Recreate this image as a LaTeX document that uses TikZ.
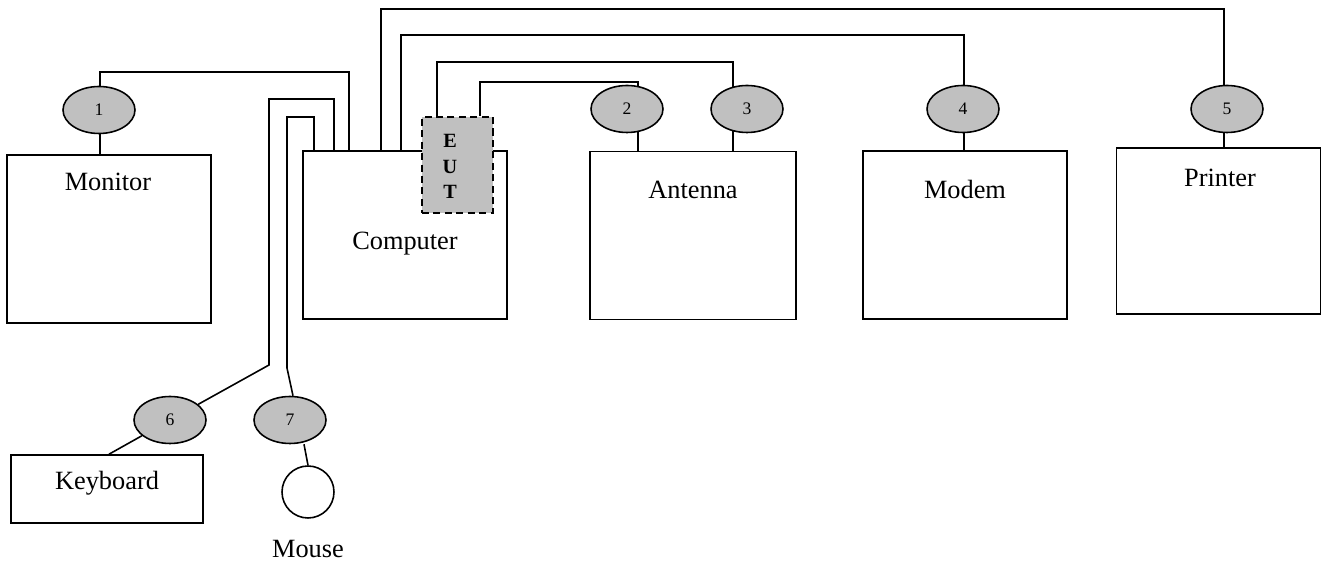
\documentclass[tikz,border=0pt]{standalone}
\usepackage{fontspec}
\setmainfont{Liberation Serif}
\usepackage{xcolor}
\usepackage{tikz}
\usetikzlibrary{shapes.geometric,positioning,backgrounds}
\definecolor{portgray}{HTML}{C0C0C0}

\begin{document}
\begin{tikzpicture}[
  x=0.02cm, y=-0.02cm,
  unit/.style={draw, rectangle, line width=0.9pt, inner sep=0pt, minimum width=4.08cm, minimum height=3.36cm},
  kbd/.style={unit, minimum width=3.84cm, minimum height=1.36cm},
  port/.style={draw, ellipse, line width=0.9pt, fill=portgray, inner sep=0pt, minimum width=1.44cm, minimum height=0.94cm, font=\fontsize{10}{12}\selectfont},
  eutbox/.style={draw, rectangle, line width=0.9pt, dash pattern=on 4pt off 2.5pt, fill=portgray, minimum width=1.42cm, minimum height=1.92cm},
  mousebox/.style={draw, circle, line width=0.9pt, minimum size=1.04cm, inner sep=0pt},
  lbl/.style={anchor=base, inner sep=0pt, font=\fontsize{15}{18}\selectfont},
  cable/.style={line width=0.9pt}
]
\useasboundingbox (0,0) rectangle (1323,563);
\node[unit] (monitor) at (109,239) {};
\node[unit] (computer) at (405,235) {};
\node[unit, minimum width=4.12cm] (antenna) at (693,235.5) {};
\node[unit] (modem) at (965,235) {};
\node[unit, minimum height=3.32cm] (printer) at (1218.5,231) {};
\node[kbd] (keyboard) at (107,489) {};
\node[mousebox] (mouse) at (308,492) {};
\node[eutbox] (eut) at (457.5,165) {};
\node[inner sep=0pt, align=center, font=\fontsize{11.5}{14.4}\selectfont\bfseries] (eutlbl) at (450,166.5) {E\\U\\T};
\node[port] (p1) at (99,110) {1};
\node[port] (p2) at (627,109) {2};
\node[port] (p3) at (747,109) {3};
\node[port] (p4) at (963,109) {4};
\node[port] (p5) at (1227,109) {5};
\node[port] (p6) at (170,420) {6};
\node[port] (p7) at (290,420) {7};
\node[lbl] (monitorlbl) at (108,191) {Monitor};
\node[lbl] (computerlbl) at (405,250) {Computer};
\node[lbl] (antennalbl) at (693,199) {Antenna};
\node[lbl] (modemlbl) at (965,199) {Modem};
\node[lbl] (printerlbl) at (1220,187) {Printer};
\node[lbl] (keyboardlbl) at (107,490) {Keyboard};
\node[lbl] (mouselbl) at (308,558) {Mouse};
\begin{pgfonlayer}{background}
\draw[cable] (computer.north -| 349,0) |- (100,72) -- (monitor.north -| 100,0);
\draw[cable] (computer.north -| 381,0) |- (1224,9) -- (printer.north -| 1224,0);
\draw[cable] (computer.north -| 401,0) |- (964,35) -- (modem.north -| 964,0);
\draw[cable] (eut.north -| 437,0) |- (733,62) -- (antenna.north -| 733,0);
\draw[cable] (eut.north -| 480,0) |- (638,82) -- (antenna.north -| 638,0);
\draw[cable] (computer.north -| 334,0) |- (269,99) -- (269,365) -- (p6);
\draw[cable] (p6) -- (keyboard.north -| 109,0);
\draw[cable] (computer.north -| 314,0) |- (287,117) -- (287,368) -- (p7.north -| 293,0);
\draw[cable] (p7.south -| 304,0) -- (mouse.north);
\end{pgfonlayer}
\end{tikzpicture}
\end{document}
